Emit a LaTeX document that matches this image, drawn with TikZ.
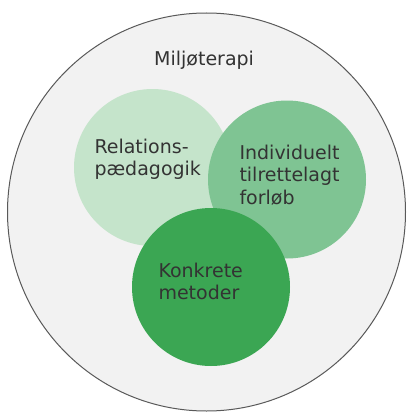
\documentclass[tikz,border=0pt]{standalone}
\usepackage{fontspec}
\setmainfont{DejaVu Sans}
\definecolor{ringgray}{HTML}{595959}
\definecolor{ringfill}{HTML}{F2F2F2}
\definecolor{greenlight}{HTML}{C5E4CB}
\definecolor{greenmid}{HTML}{7FC493}
\definecolor{greendark}{HTML}{3BA653}
\definecolor{labeltext}{HTML}{333333}
\begin{document}
\begin{tikzpicture}[x=1pt,y=-1pt, every node/.style={inner sep=0pt,anchor=base west,align=left,text=labeltext,font=\fontsize{19}{22.4}\selectfont}]
        \useasboundingbox (0,0) rectangle (407,412);
        \draw [ringgray,fill=ringfill,line width=1pt] (206.5,212) circle (199);
        \fill [greenlight] (152.5,167.5) circle (78.5);
        \fill [greenmid] (287,179.5) circle (79);
        \fill [greendark] (211,287) circle (79);
        % base anchor sits on the last line
        \draw (154,66) node (miljo) {Miljøterapi};
        \draw (94.3,175.7) node (relation) {Relations-\\pædagogik};
        \draw (239.3,204) node (forloeb) {Individuelt\\tilrettelagt\\forløb};
        \draw (158.3,299.5) node (metoder) {Konkrete\\metoder};
\end{tikzpicture}
\end{document}
